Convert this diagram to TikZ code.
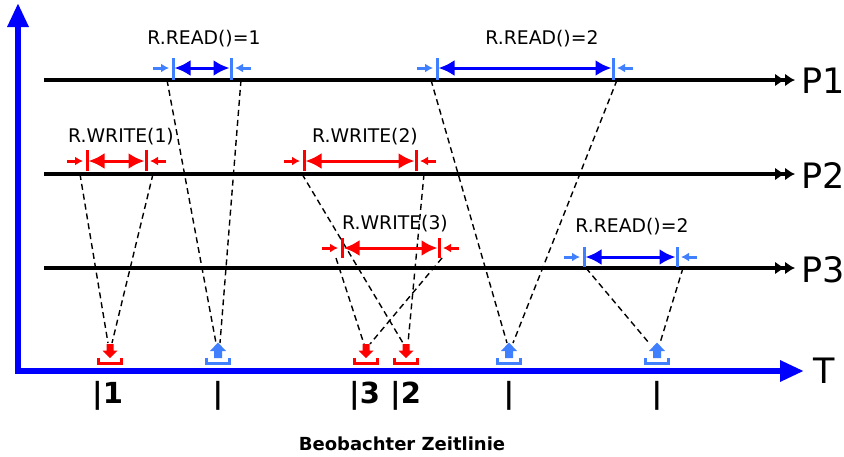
\documentclass[tikz,border=0pt]{standalone}
\usepackage{fontspec}
\setmainfont{DejaVu Sans}
\usetikzlibrary{arrows.meta}
\definecolor{lblue}{RGB}{64,128,255}
\newcommand{\drawspan}[8]{% name, bar colour, span colour, left x, right x, arrow y, bar top y, bar bottom y
  \coordinate (#1l) at (#4,#6);
  \coordinate (#1r) at (#5,#6);
  \draw[#2,limit] (#4,#7) -- (#4,#8);
  \draw[#2,limit] (#5,#7) -- (#5,#8);
  \draw[#3,spanarrow,shorten <=1.5pt,shorten >=1.5pt] (#1l) -- (#1r);
  \draw[#2,hint] ([xshift=-20pt]#1l) -- ([xshift=-4pt]#1l);
  \draw[#2,hint] ([xshift=20pt]#1r) -- ([xshift=4pt]#1r);
}
\begin{document}
\begin{tikzpicture}[x=1pt,y=-1pt,
  proc/.style={line width=4pt,-{Latex[length=10pt,width=13pt]Latex[length=10pt,width=13pt]}},
  taxis/.style={blue,line width=6pt,line join=miter,{Triangle[length=24pt,width=20pt]}-{Triangle[length=24pt,width=20pt]}},
  spanarrow/.style={line width=3pt,{Latex[length=16pt,width=16pt]}-{Latex[length=16pt,width=16pt]}},
  limit/.style={line width=3pt},
  hint/.style={line width=3pt,-{Latex[length=8pt,width=9pt]}},
  obs/.style={line width=1.4pt,dash pattern=on 6pt off 4pt},
  lab/.style={font=\fontsize{18.8}{22}\selectfont,anchor=base,inner sep=0pt},
  plab/.style={font=\fontsize{35}{40}\selectfont,anchor=base west,inner sep=0pt},
  ticklab/.style={font=\fontsize{29}{32}\selectfont\bfseries,inner sep=0pt},
  wmark/.pic={
    \fill[red] (-3.5,-19.5) -- (3.5,-19.5) -- (3.5,-13) -- (7.5,-13) -- (0,-5.5) -- (-7.5,-13) -- (-3.5,-13) -- cycle;
    \draw[red,line width=3pt,line join=miter] (-11.5,-6) -- (-11.5,0) -- (11.5,0) -- (11.5,-6);
  },
  rmark/.pic={
    \fill[lblue] (0,-21) -- (8,-12.5) -- (4,-12.5) -- (4,-5.5) -- (-4,-5.5) -- (-4,-12.5) -- (-8,-12.5) -- cycle;
    \draw[lblue,line width=3pt,line join=miter] (-11.5,-6) -- (-11.5,0) -- (11.5,0) -- (11.5,-6);
  }
]
\useasboundingbox (0,0) rectangle (844,456);

% axes
\coordinate (ytop) at (18,3);
\coordinate (orig) at (18,371);
\coordinate (xend) at (804,371);
\draw[taxis] (ytop) -- (orig) -- (xend);
\node[plab] (tl) at (813,383) {T};

% process lines
\coordinate (s1) at (44,80);  \coordinate (e1) at (795,80);
\coordinate (s2) at (44,174); \coordinate (e2) at (795,174);
\coordinate (s3) at (44,268); \coordinate (e3) at (795,268);
\draw[proc] (s1) -- (e1);
\draw[proc] (s2) -- (e2);
\draw[proc] (s3) -- (e3);
\node[plab] (p1) at (801,93) {P1};
\node[plab] (p2) at (801,188) {P2};
\node[plab] (p3) at (801,282) {P3};

% markers on observer line
\pic at (110,363.5) {wmark};
\pic at (218,363.5) {rmark};
\pic at (366,363.5) {wmark};
\pic at (406,363.5) {wmark};
\pic at (509,363.5) {rmark};
\pic at (657,363.5) {rmark};

% dashed observation lines
\coordinate (a1) at (167,80);  \coordinate (a2) at (241,80);
\coordinate (ma1) at (216,343); \coordinate (ma2) at (220,343);
\coordinate (b1) at (80,174);  \coordinate (b2) at (153,174);
\coordinate (mb1) at (108,343); \coordinate (mb2) at (112,343);
\coordinate (c1) at (302,174); \coordinate (c2) at (424,174);
\coordinate (mc1) at (403,343); \coordinate (mc2) at (408,343);
\coordinate (d1) at (336,258); \coordinate (d2) at (442,258);
\coordinate (md1) at (364,344); \coordinate (md2) at (370,344);
\coordinate (f1) at (431,80);  \coordinate (f2) at (617,80);
\coordinate (mf1) at (507,343); \coordinate (mf2) at (513,343);
\coordinate (g1) at (586,268); \coordinate (g2) at (683,268);
\coordinate (mg1) at (649,343); \coordinate (mg2) at (660,343);
\draw[obs] (a1) -- (ma1); \draw[obs] (a2) -- (ma2);
\draw[obs] (b1) -- (mb1); \draw[obs] (b2) -- (mb2);
\draw[obs] (c1) -- (mc1); \draw[obs] (c2) -- (mc2);
\draw[obs] (d1) -- (md1); \draw[obs] (d2) -- (md2);
\draw[obs] (f1) -- (mf1); \draw[obs] (f2) -- (mf2);
\draw[obs] (g1) -- (mg1); \draw[obs] (g2) -- (mg2);

% intervals
\drawspan{ra}{lblue}{blue}{173}{231}{68}{58}{80}
\drawspan{rb}{lblue}{blue}{437}{613}{68}{58}{80}
\drawspan{wa}{red}{red}{87}{146}{161}{150}{171}
\drawspan{wb}{red}{red}{304}{416}{161}{150}{171}
\drawspan{wc}{red}{red}{342}{439}{248}{238}{258}
\drawspan{rc}{lblue}{blue}{584}{677}{257}{247}{267}

% labels
\node[lab] (la) at (204,44) {R.READ()=1};
\node[lab] (lb) at (542,44) {R.READ()=2};
\node[lab] (lc) at (121,142) {R.WRITE(1)};
\node[lab] (ld) at (365,142) {R.WRITE(2)};
\node[lab] (le) at (395,229) {R.WRITE(3)};
\node[lab] (lf) at (632,232) {R.READ()=2};

% ticks
\node[ticklab,anchor=base west] (t1) at (92,403) {|1};
\node[ticklab,anchor=base] (t2) at (218,403) {|};
\node[ticklab,anchor=base west] (t3) at (349,403) {|3};
\node[ticklab,anchor=base west] (t4) at (390,403) {|2};
\node[ticklab,anchor=base] (t5) at (509,403) {|};
\node[ticklab,anchor=base] (t6) at (657,403) {|};

\node[font=\fontsize{18}{22}\selectfont\bfseries,anchor=base,inner sep=0pt] (cap) at (402,450) {Beobachter Zeitlinie};
\end{tikzpicture}
\end{document}
